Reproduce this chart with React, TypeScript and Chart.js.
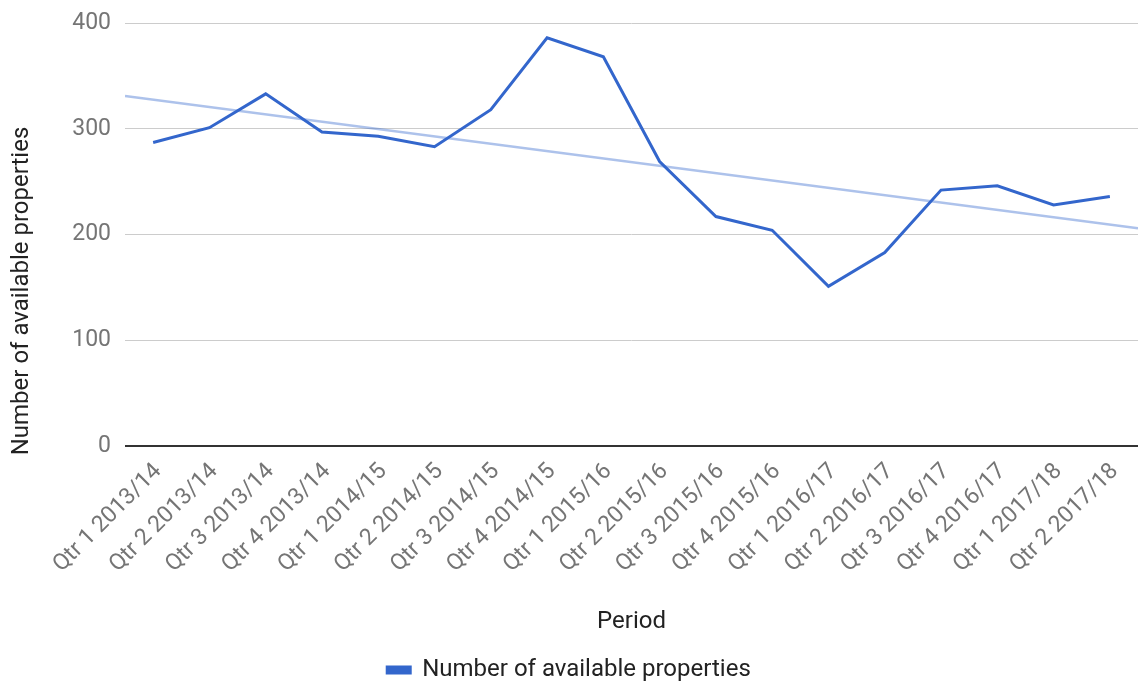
import React, { useEffect, useRef } from "react";
import { Chart, registerables } from "chart.js";

Chart.register(...registerables);

const periods = [
  "Qtr 1 2013/14", "Qtr 2 2013/14", "Qtr 3 2013/14", "Qtr 4 2013/14",
  "Qtr 1 2014/15", "Qtr 2 2014/15", "Qtr 3 2014/15", "Qtr 4 2014/15",
  "Qtr 1 2015/16", "Qtr 2 2015/16", "Qtr 3 2015/16", "Qtr 4 2015/16",
  "Qtr 1 2016/17", "Qtr 2 2016/17", "Qtr 3 2016/17", "Qtr 4 2016/17",
  "Qtr 1 2017/18", "Qtr 2 2017/18",
];

const availableProperties = [
  287, 301, 333, 297, 293, 283, 318, 386, 368, 269, 217, 204, 151, 183, 242, 246, 228, 236,
];

// Trend line end values read at the left and right edges of the plot
const trendStartValue = 331;
const trendEndValue = 206;

const yTicks = [0, 100, 200, 300, 400];

const seriesLabel = "Number of available properties";
const xTitle = "Period";
const yTitle = "Number of available properties";

const FONT = "Roboto";

export default function App() {
  const canvasRef = useRef<HTMLCanvasElement | null>(null);

  useEffect(() => {
    document.body.style.margin = "0";
    const canvas = canvasRef.current;
    if (!canvas) return;

    const lineData = availableProperties.map((v, i) => ({ x: i, y: v }));
    const trendData = [
      { x: -0.5, y: trendStartValue },
      { x: periods.length - 0.5, y: trendEndValue },
    ];

    const yTitlePlugin = {
      id: "yTitlePlugin",
      afterDraw(chart: any) {
        const ctx = chart.ctx;
        ctx.save();
        ctx.translate(22, 291);
        ctx.rotate(-Math.PI / 2);
        ctx.font = `24px ${FONT}`;
        ctx.fillStyle = "#222222";
        ctx.textAlign = "center";
        ctx.textBaseline = "middle";
        ctx.fillText(yTitle, 0, 0);
        ctx.restore();
      },
    };

    const chart = new Chart(canvas, {
      type: "line",
      data: {
        datasets: [
          {
            label: "Trend",
            data: trendData,
            borderColor: "rgba(51,102,204,0.4)",
            backgroundColor: "rgba(51,102,204,0.4)",
            borderWidth: 2.5,
            pointRadius: 0,
            tension: 0,
          },
          {
            label: seriesLabel,
            data: lineData,
            borderColor: "#3366cc",
            backgroundColor: "#3366cc",
            borderWidth: 3,
            pointRadius: 0,
            tension: 0,
          },
        ],
      },
      options: {
        animation: false,
        responsive: false,
        maintainAspectRatio: false,
        layout: { padding: { left: 0, right: 2, top: 23, bottom: -10 } },
        plugins: {
          legend: {
            position: "bottom",
            labels: {
              filter: (item: any) => item.text !== "Trend",
              boxWidth: 23,
              boxHeight: 6,
              padding: 2,
              color: "#222222",
              font: { family: FONT, size: 24 },
            },
          },
          tooltip: { enabled: false },
        },
        scales: {
          x: {
            type: "linear",
            min: -0.5,
            max: periods.length - 0.5,
            afterBuildTicks: (scale: any) => {
              scale.ticks = periods.map((_, i) => ({ value: i }));
            },
            afterFit: (scale: any) => {
              scale.height = 210;
              scale.paddingLeft = 0;
              scale.paddingRight = 0;
            },
            grid: { display: false, drawTicks: false },
            border: { display: false },
            ticks: {
              autoSkip: false,
              minRotation: 45,
              maxRotation: 45,
              padding: 12,
              labelOffset: 5,
              color: "#757575",
              font: { family: FONT, size: 23 },
              callback: (v: any) => periods[v] ?? "",
            },
            title: {
              display: true,
              text: xTitle,
              color: "#222222",
              font: { family: FONT, size: 24 },
              padding: { top: 0, bottom: 20 },
            },
          },
          y: {
            min: 0,
            max: 400,
            afterBuildTicks: (scale: any) => {
              scale.ticks = yTicks.map((v) => ({ value: v }));
            },
            afterFit: (scale: any) => {
              scale.width = 125;
              scale.paddingTop = 0;
              scale.paddingBottom = 0;
            },
            grid: {
              color: (ctx: any) => (ctx.tick && ctx.tick.value === 0 ? "#333333" : "#cccccc"),
              lineWidth: (ctx: any) => (ctx.tick && ctx.tick.value === 0 ? 2 : 1),
              drawTicks: false,
            },
            border: { display: false },
            ticks: {
              padding: 14,
              color: "#757575",
              font: { family: FONT, size: 23 },
            },
          },
        },
      },
      plugins: [yTitlePlugin],
    });

    return () => chart.destroy();
  }, []);

  return (
    <div style={{ width: 1140, height: 682 }}>
      <canvas ref={canvasRef} width={1140} height={682} style={{ width: 1140, height: 682 }} />
    </div>
  );
}
